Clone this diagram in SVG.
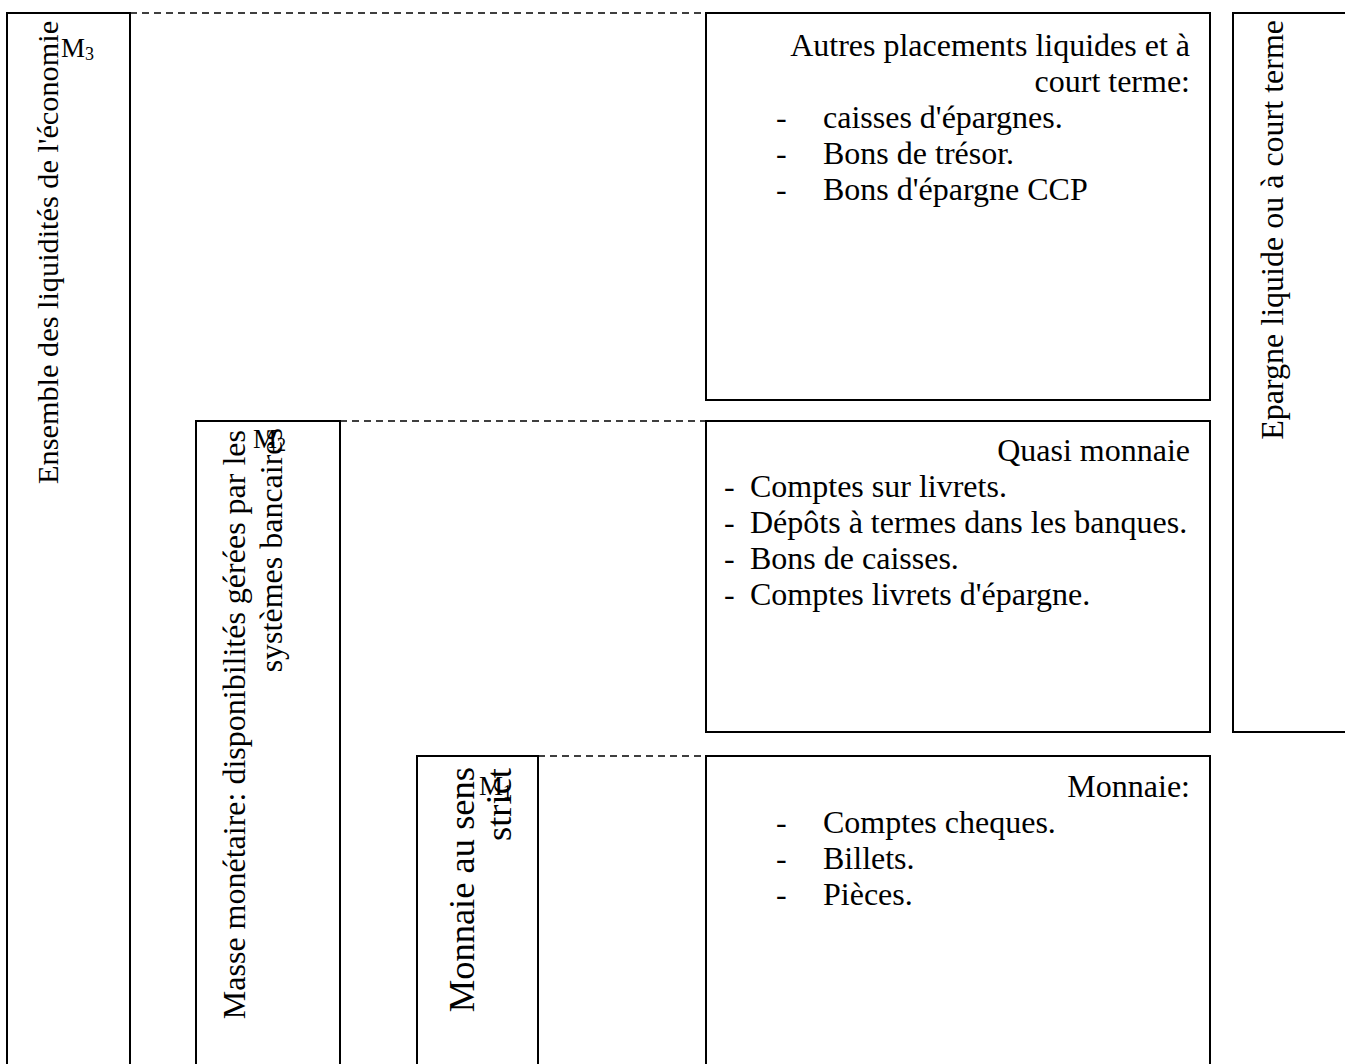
<svg xmlns="http://www.w3.org/2000/svg" width="1345" height="1064" viewBox="0 0 1345 1064">
  <style>
    .box { fill: #ffffff; stroke: #000000; stroke-width: 2; }
    .lead { fill: none; stroke: #000000; stroke-width: 1.5; stroke-dasharray: 7 5; }
    text { font-family: "Liberation Serif", "Times New Roman", serif; fill: #000000; font-size: 32px; }
    .m { font-size: 27px; }
    .sub { font-size: 18px; }
    .r { text-anchor: end; }
    .big { font-size: 36.5px; }
  </style>

  <rect width="1345" height="1064" fill="#ffffff"/>

  <!-- dashed leaders joining each aggregate to its components -->
  <g id="connectors">
    <line class="lead" x1="130" y1="13" x2="706" y2="13"/>
    <line class="lead" x1="340" y1="421" x2="706" y2="421"/>
    <line class="lead" x1="538" y1="756" x2="706" y2="756"/>
  </g>

  <!-- M3 -->
  <g id="m3">
    <rect class="box" x="7" y="13" width="123" height="1100"/>
    <text transform="translate(58,484) rotate(-90)" style="font-size:30.3px">Ensemble des liquidités de l'économie</text>
    <text x="61" y="57"><tspan class="m">M</tspan><tspan class="sub" dy="3">3</tspan></text>
  </g>

  <!-- M2 -->
  <g id="m2">
    <rect class="box" x="196" y="421" width="144" height="700"/>
    <text class="r" transform="translate(245,430) rotate(-90)">Masse monétaire: disponibilités gérées par les</text>
    <text class="r" transform="translate(282,428) rotate(-90)">systèmes bancaires</text>
    <text x="253" y="448"><tspan class="m">M</tspan><tspan class="sub" dy="3">2</tspan></text>
  </g>

  <!-- M1 -->
  <g id="m1">
    <rect class="box" x="417" y="756" width="121" height="400"/>
    <text class="r big" transform="translate(474,767) rotate(-90)">Monnaie au sens</text>
    <text class="r big" transform="translate(511,768) rotate(-90)">strict</text>
    <text x="479" y="795"><tspan class="m">M</tspan><tspan class="sub" dy="3">1</tspan></text>
  </g>

  <!-- other liquid and short-term placements -->
  <g id="autres-placements">
    <rect class="box" x="706" y="13" width="504" height="387"/>
    <text class="r" x="1190" y="56">Autres placements liquides et à</text>
    <text class="r" x="1190" y="92">court terme:</text>
    <text x="776" y="128">-</text>
    <text x="823" y="128">caisses d'épargnes.</text>
    <text x="776" y="164">-</text>
    <text x="823" y="164">Bons de trésor.</text>
    <text x="776" y="200">-</text>
    <text x="823" y="200">Bons d'épargne CCP</text>
  </g>

  <!-- quasi-money -->
  <g id="quasi-monnaie">
    <rect class="box" x="706" y="421" width="504" height="311"/>
    <text class="r" x="1190" y="461">Quasi monnaie</text>
    <text x="724" y="497">-</text>
    <text x="750" y="497">Comptes sur livrets.</text>
    <text x="724" y="533">-</text>
    <text x="750" y="533">Dépôts à termes dans les banques.</text>
    <text x="724" y="569">-</text>
    <text x="750" y="569">Bons de caisses.</text>
    <text x="724" y="605">-</text>
    <text x="750" y="605">Comptes livrets d'épargne.</text>
  </g>

  <!-- money -->
  <g id="monnaie">
    <rect class="box" x="706" y="756" width="504" height="400"/>
    <text class="r" x="1190" y="797">Monnaie:</text>
    <text x="776" y="833">-</text>
    <text x="823" y="833">Comptes cheques.</text>
    <text x="776" y="869">-</text>
    <text x="823" y="869">Billets.</text>
    <text x="776" y="905">-</text>
    <text x="823" y="905">Pièces.</text>
  </g>

  <!-- liquid or short-term savings -->
  <g id="epargne">
    <rect class="box" x="1233" y="13" width="130" height="719"/>
    <text class="r" transform="translate(1283,20) rotate(-90)">Epargne liquide ou à court terme</text>
  </g>
</svg>
